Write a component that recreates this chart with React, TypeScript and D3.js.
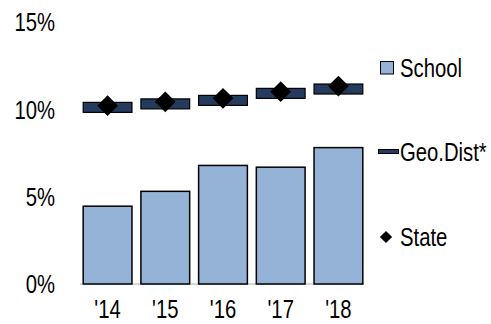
import React from "react";
import * as d3 from "d3";

const years = ["'14", "'15", "'16", "'17", "'18"];
const school = [4.45, 5.3, 6.78, 6.68, 7.8];
const geoDist = [10.1, 10.3, 10.5, 10.9, 11.15];
const state = [10.2, 10.42, 10.62, 11.0, 11.32];
const yTicks = [0, 5, 10, 15];
const legendItems = ["School", "Geo.Dist*", "State"];

const W = 491, H = 324;
const font = "'Liberation Sans', Arial, sans-serif";
const FS = 26;
const SX = 0.78;

function Label({ x, y, anchor, children }: { x: number; y: number; anchor: string; children: React.ReactNode }) {
  return (
    <text transform={`translate(${x},${y}) scale(${SX},1)`} dy="0.36em" textAnchor={anchor}
      fontFamily={font} fontSize={FS} fill="#000">{children}</text>
  );
}

export default function App() {
  const x = d3.scaleBand<string>().domain(years).range([78, 368]).paddingInner(0.155).paddingOuter(0.09);
  const y = d3.scaleLinear().domain([0, 15]).range([284, 21.7]);
  const bw = x.bandwidth();
  const sq = d3.symbol().type(d3.symbolSquare).size(215)() as string;
  const sqLeg = d3.symbol().type(d3.symbolSquare).size(75)() as string;
  return (
    <svg width={W} height={H} style={{ position: "absolute", left: 0, top: 0, background: "#fff" }}>
      {yTicks.map((t) => (
        <Label key={t} x={55} y={y(t)} anchor="end">{t}%</Label>
      ))}
      <line x1={80} x2={364} y1={y(0)} y2={y(0)} stroke="#c8c8c8" strokeWidth={1.5} />
      {years.map((c, i) => (
        <rect key={"b" + c} x={x(c)} y={y(school[i])} width={bw} height={y(0) - y(school[i])}
          fill="#95b3d7" stroke="#000" strokeWidth={1.5} />
      ))}
      {years.map((c, i) => (
        <rect key={"g" + c} x={x(c)} y={y(geoDist[i]) - 5} width={bw} height={10}
          fill="#243b5e" stroke="#000" strokeWidth={1.2} />
      ))}
      {years.map((c, i) => (
        <path key={"s" + c} d={sq}
          transform={`translate(${(x(c) as number) + bw / 2},${y(state[i])}) rotate(45)`} fill="#000" />
      ))}
      {years.map((c) => (
        <Label key={"t" + c} x={(x(c) as number) + bw / 2} y={309} anchor="middle">{c}</Label>
      ))}
      {/* legend */}
      <rect x={380.5} y={61.5} width={13} height={12.5} fill="#95b3d7" stroke="#000" strokeWidth={1} />
      <Label x={400} y={67.5} anchor="start">{legendItems[0]}</Label>
      <rect x={378.5} y={149.5} width={20} height={4} fill="#243b5e" stroke="#000" strokeWidth={1} />
      <Label x={400} y={152} anchor="start">{legendItems[1]}</Label>
      <path d={sqLeg} transform="translate(386,237) rotate(45)" fill="#000" />
      <Label x={400} y={237} anchor="start">{legendItems[2]}</Label>
    </svg>
  );
}
